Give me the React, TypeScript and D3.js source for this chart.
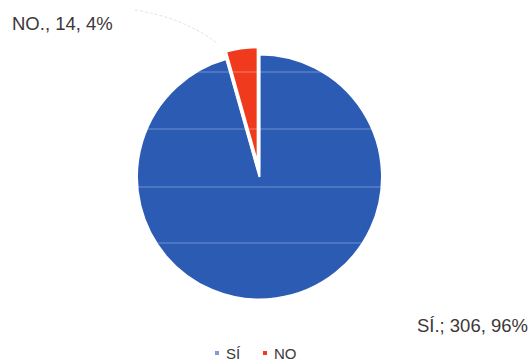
import React from "react";
import * as d3 from "d3";

const categories = ["SÍ", "NO"];
const values = [306, 14];
const colors = ["#2c5bb4", "#f03a1e"];
const labelTexts = ["SÍ.; 306, 96%", "NO., 14, 4%"];

export default function App() {
  const W = 532, H = 363;
  const cx = 259.5, cy = 177, r = 122.5;
  const pie = d3.pie<number>().sort(null).startAngle(0).endAngle(2 * Math.PI)(values);
  const arc = d3.arc<d3.PieArcDatum<number>>().innerRadius(0).outerRadius(r);
  const explode = 8;
  return (
    <svg width={W} height={H} style={{ position: "absolute", left: 0, top: 0, background: "#fff" }}
      fontFamily="Arial, Liberation Sans, sans-serif">
      <path d={`M 135 10 Q 185 18 218 44`} fill="none" stroke="#e2e2e2" strokeWidth={1} strokeDasharray="3,2" />
      {pie.map((d, i) => {
        const mid = (d.startAngle + d.endAngle) / 2;
        const off = i === 1 ? explode : 0;
        const dx = Math.sin(mid) * off, dy = -Math.cos(mid) * off;
        return (
          <path key={i} d={arc(d) || ""} transform={`translate(${cx + dx},${cy + dy})`}
            fill={colors[i]} stroke="#fff" strokeWidth={i === 1 ? 3.5 : 2} strokeLinejoin="miter" />
        );
      })}
      {[72, 129, 187, 243].map((y, i) => (
        <line key={i} x1={cx - r} x2={cx + r} y1={y} y2={y} stroke="#ffffff" strokeOpacity={0.22} strokeWidth={1.5} />
      ))}
      <text x={12} y={30} fontSize={18.5} fill="#3c3838">{labelTexts[1]}</text>
      <text x={528} y={332} fontSize={18.5} fill="#3c3838" textAnchor="end">{labelTexts[0]}</text>
      {categories.map((c, i) => {
        const x = 215 + i * 48;
        return (
          <g key={c}>
            <rect x={x} y={351} width={4} height={4} fill={colors[i]} opacity={i === 0 ? 0.6 : 1} />
            <text x={x + 11} y={359} fontSize={15} fill="#3c3838">{c}</text>
          </g>
        );
      })}
    </svg>
  );
}
